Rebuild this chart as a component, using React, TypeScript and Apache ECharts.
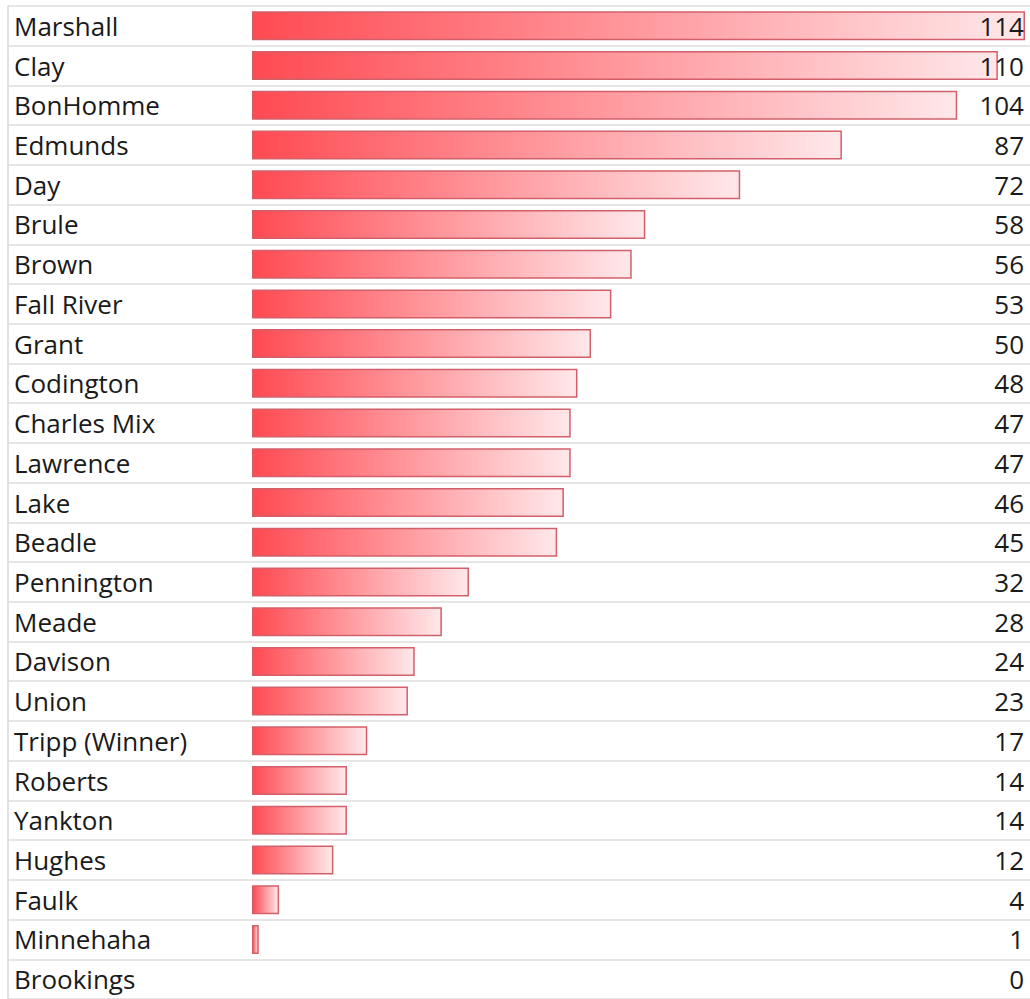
import React, { useEffect, useRef } from "react";
import * as echarts from "echarts";

const counties = [
  "Marshall", "Clay", "BonHomme", "Edmunds", "Day", "Brule", "Brown", "Fall River",
  "Grant", "Codington", "Charles Mix", "Lawrence", "Lake", "Beadle", "Pennington",
  "Meade", "Davison", "Union", "Tripp (Winner)", "Roberts", "Yankton", "Hughes",
  "Faulk", "Minnehaha", "Brookings",
];
const counts = [
  114, 110, 104, 87, 72, 58, 56, 53, 50, 48, 47, 47, 46, 45, 32, 28, 24, 23, 17, 14, 14, 12, 4, 1, 0,
];

const FONT = "Open Sans";
const ROW_H = 39.85;

export default function App() {
  const ref = useRef<HTMLDivElement>(null);
  useEffect(() => {
    if (!ref.current) return;
    const chart = echarts.init(ref.current, null, { renderer: "svg" });
    const tableHeight = ROW_H * counties.length;
    chart.setOption({
      animation: false,
      backgroundColor: "#ffffff",
      grid: [
        { left: 8, right: 0, top: 6, height: tableHeight, containLabel: false },
        { left: 252, right: 5, top: 6, height: tableHeight, containLabel: false },
      ],
      xAxis: [
        { gridIndex: 0, type: "value", show: false, min: 0, max: 1 },
        { gridIndex: 1, type: "value", show: false, min: 0, max: 114 },
      ],
      yAxis: [
        {
          gridIndex: 0,
          type: "category",
          data: counties,
          inverse: true,
          position: "left",
          z: 5,
          axisLine: { show: true, lineStyle: { color: "#d9d9d9", width: 1.5 } },
          axisTick: { show: false },
          splitLine: { show: true, lineStyle: { color: "#dedede", width: 1.5 } },
          axisLabel: {
            inside: true,
            margin: 6,
            color: "#1a1a1a",
            fontFamily: FONT,
            fontSize: 26,
          },
        },
        {
          gridIndex: 0,
          type: "category",
          data: counts.map((v) => String(v)),
          inverse: true,
          position: "right",
          z: 5,
          axisLine: { show: false },
          axisTick: { show: false },
          splitLine: { show: false },
          axisLabel: {
            inside: true,
            margin: 6,
            color: "#1a1a1a",
            fontFamily: FONT,
            fontSize: 26,
          },
        },
        {
          gridIndex: 1,
          type: "category",
          data: counties,
          inverse: true,
          show: false,
        },
      ],
      series: [
        {
          type: "bar",
          xAxisIndex: 1,
          yAxisIndex: 2,
          data: counts.map((v) =>
            v === 0 ? { value: v, itemStyle: { borderWidth: 0, opacity: 0 } } : v
          ),
          barWidth: 29,
          z: 2,
          itemStyle: {
            color: new echarts.graphic.LinearGradient(0, 0, 1, 0, [
              { offset: 0, color: "#ff4a52" },
              { offset: 1, color: "#ffe8ea" },
            ]),
            borderColor: "#d2606b",
            borderWidth: 1.5,
          },
        },
      ],
    });
    return () => chart.dispose();
  }, []);
  return (
    <div
      ref={ref}
      style={{ position: "fixed", left: 0, top: 0, width: 1030, height: 999 }}
    />
  );
}
